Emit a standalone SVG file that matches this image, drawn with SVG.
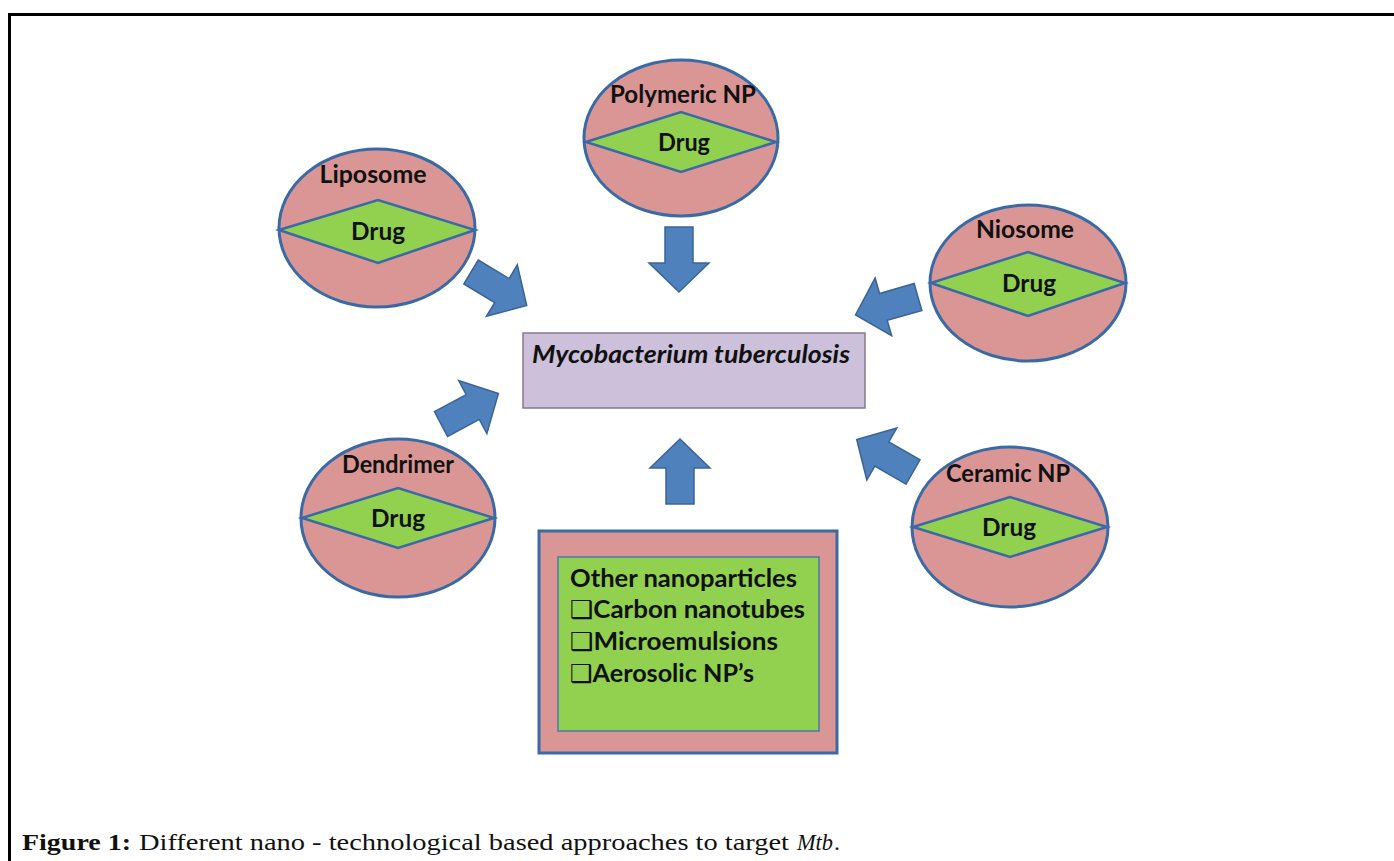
<svg xmlns="http://www.w3.org/2000/svg" width="1394" height="861" viewBox="0 0 1394 861">
<style>
.np{fill:#d99694;stroke:#3a6aa5;stroke-width:3}
.dia{fill:#92d050;stroke:#3a6aa5;stroke-width:2.5;stroke-linejoin:miter}
.lbl{font-family:Lato,"Open Sans","Liberation Sans",sans-serif;font-weight:bold;font-size:25px;fill:#111;text-anchor:middle}
.arr{fill:#4f81bd;stroke:#3a6496;stroke-width:1.5;stroke-linejoin:miter}
.lst{font-family:Lato,"Open Sans","Liberation Sans",sans-serif;font-weight:bold;font-size:25px;fill:#111}
.chk{font-family:"DejaVu Sans",sans-serif;font-weight:normal}
.cap{font-family:"Liberation Serif","DejaVu Serif",serif;font-size:24px;fill:#111}
</style>
<defs>
<path id="ba" d="M0,-14 L36,-14 L36,-30 L65,0 L36,30 L36,14 L0,14 Z"/>
</defs>
<rect width="1394" height="861" fill="#ffffff"/>
<path d="M9.5,861 L9.5,14.5 L1394,14.5" fill="none" stroke="#000" stroke-width="3"/>

<g id="connectors">
<use href="#ba" class="arr" transform="translate(679,227) rotate(90)"/>
<use href="#ba" class="arr" transform="translate(680,504) rotate(-90)"/>
<use href="#ba" class="arr" transform="translate(471,272) rotate(31)"/>
<use href="#ba" class="arr" transform="translate(441,424) rotate(-28)"/>
<use href="#ba" class="arr" transform="translate(918,297) rotate(164)"/>
<use href="#ba" class="arr" transform="translate(913,472) rotate(210)"/>
</g>

<g id="polymeric">
<ellipse class="np" cx="681" cy="138" rx="97" ry="78"/>
<polygon class="dia" points="586,142 681,112 776,142 681,172"/>
<text class="lbl" x="683" y="103" textLength="146" lengthAdjust="spacingAndGlyphs">Polymeric NP</text>
<text class="lbl" x="684" y="151" textLength="52" lengthAdjust="spacingAndGlyphs">Drug</text>
</g>

<g id="liposome">
<ellipse class="np" cx="377" cy="228" rx="98" ry="79"/>
<polygon class="dia" points="279,230 378,200 475,230 378,263"/>
<text class="lbl" x="373" y="183" textLength="107" lengthAdjust="spacingAndGlyphs">Liposome</text>
<text class="lbl" x="378" y="240" textLength="54" lengthAdjust="spacingAndGlyphs">Drug</text>
</g>

<g id="niosome">
<ellipse class="np" cx="1028" cy="283" rx="98" ry="78"/>
<polygon class="dia" points="931,283 1028,252 1125,283 1028,316"/>
<text class="lbl" x="1025" y="238" textLength="98" lengthAdjust="spacingAndGlyphs">Niosome</text>
<text class="lbl" x="1029" y="292" textLength="54" lengthAdjust="spacingAndGlyphs">Drug</text>
</g>

<g id="dendrimer">
<ellipse class="np" cx="398" cy="518" rx="97" ry="79"/>
<polygon class="dia" points="302,518 398,488 494,518 398,548"/>
<text class="lbl" x="398" y="473" textLength="112" lengthAdjust="spacingAndGlyphs">Dendrimer</text>
<text class="lbl" x="398" y="527" textLength="54" lengthAdjust="spacingAndGlyphs">Drug</text>
</g>

<g id="ceramic">
<ellipse class="np" cx="1010" cy="527" rx="98" ry="80"/>
<polygon class="dia" points="913,527 1010,497 1107,527 1010,557"/>
<text class="lbl" x="1008" y="482" textLength="124" lengthAdjust="spacingAndGlyphs">Ceramic NP</text>
<text class="lbl" x="1009" y="536" textLength="54" lengthAdjust="spacingAndGlyphs">Drug</text>
</g>

<g id="mtb">
<rect x="523" y="333" width="342" height="75" fill="#ccc0da" stroke="#857a90" stroke-width="1.5"/>
<text x="532" y="363" font-family="Lato,'Open Sans','Liberation Sans',sans-serif" font-weight="bold" font-style="italic" font-size="25" fill="#111" textLength="318" lengthAdjust="spacingAndGlyphs">Mycobacterium tuberculosis</text>
</g>

<g id="other">
<rect x="539" y="531" width="298" height="222" fill="#d99694" stroke="#3a6aa5" stroke-width="3"/>
<rect x="558" y="557" width="261" height="174" fill="#92d050" stroke="#4a7aae" stroke-width="1.5"/>
<text class="lst" x="570" y="587" textLength="227" lengthAdjust="spacingAndGlyphs">Other nanoparticles</text>
<text class="lst" x="570" y="618" textLength="235" lengthAdjust="spacingAndGlyphs"><tspan class="chk">❑</tspan>Carbon nanotubes</text>
<text class="lst" x="570" y="650" textLength="208" lengthAdjust="spacingAndGlyphs"><tspan class="chk">❑</tspan>Microemulsions</text>
<text class="lst" x="570" y="682" textLength="184" lengthAdjust="spacingAndGlyphs"><tspan class="chk">❑</tspan>Aerosolic NP’s</text>
</g>

<g id="caption">
<text class="cap" x="22" y="850" font-weight="bold" textLength="109" lengthAdjust="spacingAndGlyphs">Figure 1:</text>
<text class="cap" x="139" y="850" textLength="650" lengthAdjust="spacingAndGlyphs">Different nano - technological based approaches to target</text>
<text class="cap" x="797" y="850" font-style="italic" textLength="36" lengthAdjust="spacingAndGlyphs">Mtb</text>
<text class="cap" x="834" y="850">.</text>
</g>
</svg>
